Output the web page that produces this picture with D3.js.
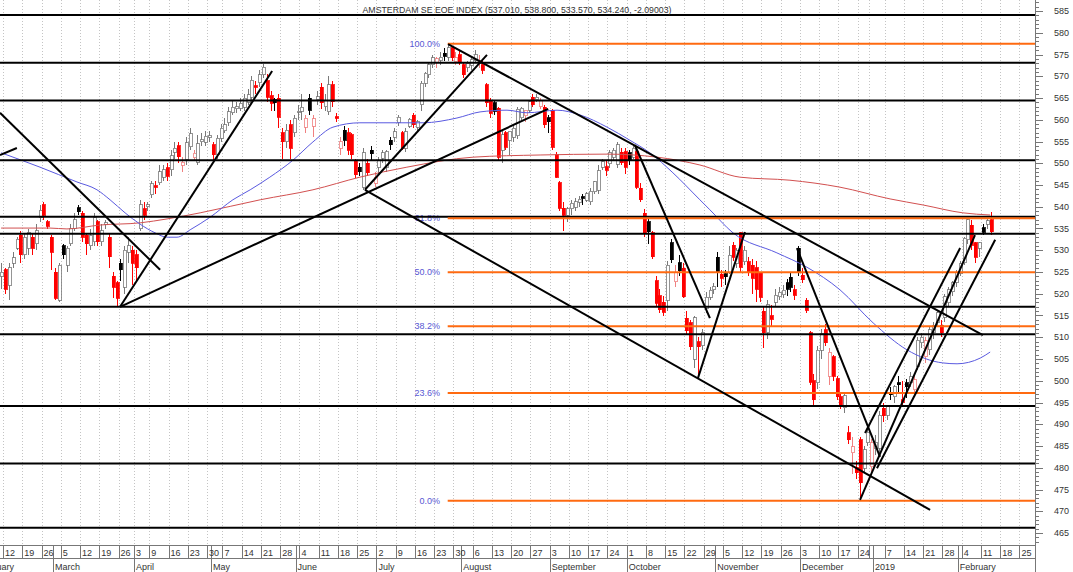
<!DOCTYPE html>
<html><head><meta charset="utf-8">
<script src="https://cdn.jsdelivr.net/npm/d3@7"></script>
<style>
body{margin:0;background:#fff;}
svg{display:block;}
text{font-family:"Liberation Sans",Arial,sans-serif;}
</style>
</head><body>
<svg id="chart" width="1073" height="572"></svg>
<script>
// ---------- DATA ----------
const titleText = "AMSTERDAM SE EOE INDEX (537.010, 538.800, 533.570, 534.240, -2.09003)";
const calendarStart = "2018-02-01";
const calendarEnd = "2019-02-28";
const dataStart = "2018-02-12";
const holidays = ["2018-03-30","2018-04-02","2018-05-01","2018-12-25","2018-12-26","2019-01-01"];
const hiddenDayLabels = ["2018-12-31"];

const open = [524,525.5,522,527,530.5,533.5,529,530.5,533,531.5,537.5,540.5,536.5,533,525,518.5,531,526.5,531.5,535,539.8,538.5,533.5,531,532,536.5,532,536,533,524,522.5,527,521.5,529.5,530,529,535,539.5,540,542.8,544.8,545.5,546.8,549,548.5,552.5,554,549.5,550.8,553.8,551.3,550.2,555,554.8,556,554.2,552,555.8,557.5,559.3,561.6,562.5,562.7,562.9,564,565.2,567.8,568.5,570.3,569,565.5,564.6,565,557,554.9,558.8,557,561.8,562,558.3,565,558.5,564.6,567.5,563,561.8,568,560.7,553.5,557.6,557,556.5,550.5,549.1,544.5,550,553,545.4,549.1,551.2,549.1,555.3,556,559.3,557,553.5,558.5,561,558.3,563.5,568.4,570.3,572.6,573.2,573.7,575.3,574.4,576.5,573.3,575,572.6,571.9,572.5,573.7,573,572.6,568,564.5,563.9,562.7,553,557,555.3,556,556.3,560.5,560.9,562.2,565.2,564.6,563,562.9,560.5,562.2,551.9,545.5,539.7,538,539.5,539.9,541,542.3,541.5,541.2,543.4,543.8,549.1,549.2,549.9,551.4,549.8,552.5,552.6,552.4,551.4,552.6,544.3,538.5,536.5,534,523,519.5,518,518.5,531.7,522.8,527.1,525.9,514.4,513.3,505,509,508.1,516.7,519.2,520.9,528.4,524.5,524.6,525,531.2,527,534,527.3,527.3,526.5,526,524.8,516,511,515,518,519.3,519.8,522.5,523.8,520.9,530.5,524.3,518.5,511,500,499.5,507,511.7,501,505.5,500.5,496.3,493.8,488,483.4,480,486.4,479.9,485.7,480.2,484.5,484.5,493.7,492.1,497.2,496.3,499.5,495.6,499.5,499.7,497.9,503.2,508.7,505.5,507.1,511,513.3,512.8,514.6,517.9,520.5,522.6,524.7,527.1,532.4,535.8,531.7,530.5,535.2,536,537.01];
const high = [527,526,527,529.5,533,534.5,534,535,534,536,540.5,541,537,533.5,526,527,531.5,531,536,538.5,540.5,539,534,535,538.5,537,536,537,534,525,523,528,531,533,531,530,541.5,541,541,546,546,549.5,549.5,550,553,555,555,551.5,556,558,553,556.5,557,557.5,557.5,555,556.5,559,560.5,563,564.5,564,565,566,567,570,569,571.5,572.8,570.5,566.5,565,566,558,559,560,561,563.5,566,561,566,561,566.5,568.5,566,570,569,561.5,556,558.5,558,557,551,550,553.5,551,554,548,551.5,553,553,556,558,561,557.5,558,560.5,561.5,560,569,571,573,575,574.5,575.5,576.5,577.5,577,575.5,576,573,573.5,574.5,576,575,573.5,568.5,565,564.5,563,557.5,557.5,557,559,563,563,562,564.5,566,566,565,563.5,561,562.5,552.5,546,541,540,541.5,542,542.5,543,543.5,544.2,546,549.5,551,550.5,553,553.5,555,553.5,553.5,553,554.2,553.5,545.5,539.5,537.5,534.5,524,521,519.5,527.5,532.5,526.5,529,527,516,514,515,510,512,520.5,521.5,522.5,529.5,525.5,525.5,531,532,530.5,534.3,531,528.5,528,527.5,525,517,518.5,517.5,521,521.5,522,523.5,525,522,531,526,519,511.5,501.5,508,512,513,507.5,506,501,497,497,489.5,487,481.5,487,485,489.5,486.5,487.5,493,495,494.5,498.5,499,501,500,500.5,502,501.5,510,511,510,512.5,513.5,516,514,520,521.5,523,525.5,527.5,533,537.5,537,532,532,536,537.5,538.8];
const low = [521,520,518.5,526,530,527,528,529,529,530,536.5,537,535,525.5,518.5,518,528,525,531,534.5,538,532,529,530,531,531,531,535,526,519,517,523,520,527,522,523,534.5,537,539,542,543,545,546,546,547,551,550,548,549.5,553,550.5,549.5,554,554,555,550,551,555,557,558.5,561,561.5,562,562,563.5,564.5,566,567.5,569.5,564,562,562,558,551,553.5,551,556,560,560,557,561,556,563.5,562.5,562,561,563,559.5,552,554,552,551,546.5,547,543.8,547,550.5,544.5,547.5,550,548,553,555,558.5,553,552.5,558,558,557.5,562,567.5,569.5,572,572,572.5,573.5,573.5,573.5,572.5,572.5,569.5,571,571.5,573,572,570.5,563,560.5,561,550.5,550,553,552,555,555.5,560,559.5,561.5,563,564,562.5,558,557,553,546.5,539,534.5,536.5,538,539,540,540.5,541,540.5,543,543,548.5,547,549,550.5,549,549.5,547.5,549.5,551,544,541,533,531.5,528,517,515.5,515,516,527,521.5,524,519,510.5,507,503,500.6,507,515.5,518.5,520,521.5,521.5,522,524.5,527.5,526,525,526.5,524,520,518,518,507.5,509.5,512.5,517,518.5,519,519.5,520.5,518.5,524,522.5,515.5,499,494.5,498,505,508,499,500,495.5,493.5,492.5,485.5,478.5,477.5,472.4,479,485,478.5,483,483.5,490.5,491,495.5,495,497.5,494,496,498.5,497,502.5,507.5,504,506,509.5,512.5,510,513.5,517,519.5,521.5,524,526.5,531.5,530,527,528.5,533.5,535,533.57];
const close = [525,521,526,528.3,532.5,529,533,534,530.5,534.5,539.2,538,535.5,529.5,519,526.5,529,530.5,535,537,538.8,533,531.5,533.5,537.5,532,534.5,536.3,528.5,521.5,519,525.5,530,531,527,526,540.5,538,540.5,545.3,544.5,548,548.5,547,551.7,553.5,551.5,550.2,554.7,556.8,552.3,554.5,555.4,556.2,556.3,551.9,555.8,558.1,558.8,561.8,562.9,563,563.8,565,565.7,569.1,567.5,570.3,572.1,565.2,563.8,563.9,560.6,554.9,557.6,553.5,560.3,562,562.9,560.4,562.2,560.2,565.3,563.9,564.5,568,564.1,560.4,554.9,555.3,553,552,547.3,548,552.4,547.8,552.2,546.8,550.7,552.4,552.6,554.2,557.2,560.6,553.5,557.2,560.1,558.8,559.5,568.4,570.7,572.6,574.3,574,574.4,574.6,576.5,574.3,574.2,573.3,570.3,573,573.8,574.9,573.7,571.4,563.9,561.5,562,551.4,556.5,553.7,557.2,558.1,562.4,562.6,562.1,564.1,563.4,565.2,564.5,558.8,559.5,553.7,546.8,539.7,538.1,539.5,540.8,541.1,541.7,541.9,543,543.6,545.7,548.3,550.3,548.4,552.4,553,554.2,550.1,549.1,550.8,553.5,544.5,541.6,534,534.3,528.5,517.8,516.3,515.8,526.6,527.8,524.8,525.3,519.3,511.5,507.8,514.5,507.8,511,519.2,520.8,521.6,524.8,523.6,523.9,528.9,528.4,530,526.1,530,525,523.6,521,519.2,511,517.5,514.1,519.6,520.3,520.8,521,521.5,519.7,524.8,523.2,516.2,499.7,495.6,507,510.8,508.7,506.5,501,496.3,494,496.5,486.4,484.8,478.8,476.5,484.1,488.2,485.7,485.9,492.1,492,494,496.8,498.6,499.1,495.1,498.6,500.9,500.2,509.3,510,509.2,511.7,512.6,515.6,511,519.3,520.9,522.5,524.9,526.9,532.8,537,531.2,528.4,531.7,534.1,536.8,534.24];

// moving averages: [trading-day index, value]
const ma50 = [[0,552.4],[10.1,549.1],[19.7,545.7],[24.9,543.9],[28.3,541.6],[32.2,538.6],[36.1,536.0],[40.0,534.0],[43.1,533.0],[45.7,533.0],[49.1,534.7],[54.3,537.6],[60.2,541.6],[64.7,543.9],[69.8,546.8],[75.8,550.7],[81.0,554.9],[86.2,558.3],[93.2,559.3],[99.2,559.3],[109.6,559.3],[118.4,560.4],[124.4,561.8],[131.4,562.2],[136.6,561.6],[144.4,562.2],[150.4,561.1],[157.4,558.3],[163.3,555.3],[168.5,552.4],[174.5,547.8],[181.5,541.6],[184.1,539.3],[190.1,534.0],[201.5,529.4],[209.3,526.1],[217.9,520.9],[226.5,513.3],[235.3,507.1],[244.6,504.1],[248.3,503.9],[254.3,505.2],[256.9,506.6]];
const ma200 = [[0,535.1],[12.7,535.1],[17.1,534.9],[25.7,535.8],[36.1,536.3],[43.1,537.2],[51.7,538.6],[67.3,541.6],[81.0,543.9],[93.2,546.8],[105.4,549.1],[122.6,551.4],[140.0,551.9],[157.4,552.1],[170.4,551.4],[181.5,549.6],[191.9,546.8],[204.9,546.1],[217.9,544.5],[230.9,541.8],[239.5,540.4],[249.8,538.6],[256.9,538.1]];

// horizontal support / resistance levels
const supportLevels = [584.1,573.1,564.4,550.7,537.7,533.8,517.0,510.7,494.2,481.0,466.2];
// fibonacci ratios and labels
const fibRatios = [1,0.618,0.5,0.382,0.236,0];
const fibLabels = ["100.0%","61.8%","50.0%","38.2%","23.6%","0.0%"];
// trend lines: [index1, value1, index2, value2]
const trendLines = [
 [-0.3,561.6,41.3,525.5],[-0.3,551.9,4.1,553.5],
 [30.9,517.0,70.4,571.2],[30.9,517.0,142.1,562.5],
 [94.5,543.9,126.2,574.9],[94.5,543.9,241.3,470.3],
 [116.1,577.4,255.0,510.5],[164.6,554.2,184.1,514.4],
 [181.0,500.6,193.2,534.2],[206.7,530.5,228.3,482.5],
 [224.4,488.0,249.1,530.5],[223.1,472.6,252.96,533.5],[227.5,479.9,258.2,532.4]
];
const priceTicks = [465,470,475,480,485,490,495,500,505,510,515,520,525,530,535,540,545,550,555,560,565,570,575,580,585];
const monthNames = ["January","February","March","April","May","June","July","August","September","October","November","December"];

// ---------- SCALES ----------
const W = 1073, H = 572, plotR = 1035, plotB = 545;
const x = d3.scaleLinear().domain([0,1]).range([1.1,4.95]);
const y = d3.scaleLinear().domain([465,585]).range([533,11]);
const fmt = d3.timeFormat("%Y-%m-%d"), parse = d3.timeParse("%Y-%m-%d");

// trading calendar
const days = [];
for (let d = parse(calendarStart); d <= parse(calendarEnd); d = d3.timeDay.offset(d,1)) {
  const wd = d.getDay();
  if (wd === 0 || wd === 6) continue;
  if (holidays.includes(fmt(d))) continue;
  days.push(d);
}
const i0 = days.findIndex(d => fmt(d) === dataStart);
const posOf = k => k - i0; // calendar position -> trading index

const svg = d3.select("#chart");
svg.append("rect").attr("width",W).attr("height",H).attr("fill","#fff");
const defs = svg.append("defs");
defs.append("clipPath").attr("id","plotclip").append("rect").attr("x",0).attr("y",0).attr("width",plotR).attr("height",plotB);
defs.append("clipPath").attr("id","axisclip").append("rect").attr("x",0).attr("y",plotB).attr("width",plotR).attr("height",H-plotB);

// week ticks & month starts
const weekTicks = [], monthStarts = [];
days.forEach((d,k) => {
  const prev = days[k-1];
  if (!prev || d3.timeMonday.floor(d).getTime() !== d3.timeMonday.floor(prev).getTime()) weekTicks.push(k);
  if (!prev || d.getMonth() !== prev.getMonth()) monthStarts.push(k);
});
const tickX = k => x(posOf(k)) + 1.9;

const plot = svg.append("g").attr("clip-path","url(#plotclip)");
// dotted vertical grid
plot.append("g").selectAll("line").data(weekTicks).join("line")
  .attr("x1",k=>Math.round(tickX(k))+0.5).attr("x2",k=>Math.round(tickX(k))+0.5)
  .attr("y1",0).attr("y2",plotB)
  .attr("stroke","#c4c4c4").attr("stroke-width",1).attr("stroke-dasharray","1,2");

// candles
const N = close.length;
const candles = d3.range(N).map(i => ({i, o:open[i], h:high[i], l:low[i], c:close[i], pc: i>0 ? close[i-1] : open[i]}));
const style = d => {
  const down = d.c < d.pc, filled = d.c < d.o;
  if (!down && !filled) return {fill:"#fff", stroke:"#7a7a7a"};
  if (!down && filled) return {fill:"#000", stroke:"#000"};
  if (down && filled) return {fill:"#ff0000", stroke:"#ff0000"};
  return {fill:"#fff", stroke:"#f08080"};
};
const cg = plot.append("g").attr("shape-rendering","crispEdges");
cg.selectAll("line").data(candles).join("line")
  .attr("x1",d=>Math.round(x(d.i))+0.5).attr("x2",d=>Math.round(x(d.i))+0.5)
  .attr("y1",d=>y(d.h)).attr("y2",d=>y(d.l))
  .attr("stroke",d=>style(d).stroke).attr("stroke-width",1);
cg.selectAll("rect").data(candles).join("rect")
  .attr("x",d=>Math.round(x(d.i))-1).attr("width",3)
  .attr("y",d=>y(Math.max(d.o,d.c))).attr("height",d=>Math.max(1,Math.abs(y(d.o)-y(d.c))))
  .attr("fill",d=>style(d).fill).attr("stroke",d=>style(d).stroke).attr("stroke-width",0.8);

// moving averages
const maLine = d3.line().x(p=>x(p[0])).y(p=>y(p[1])).curve(d3.curveMonotoneX);
plot.append("path").attr("d",maLine(ma200)).attr("fill","none").attr("stroke","#d25050").attr("stroke-width",1);
plot.append("path").attr("d",maLine(ma50)).attr("fill","none").attr("stroke","#5a5ae0").attr("stroke-width",1);

// fibonacci retracement
const hiIdx = d3.maxIndex(high), loIdx = d3.minIndex(low);
const fibHi = high[hiIdx], fibLo = low[loIdx];
const fibVals = fibRatios.map(r => fibLo + r*(fibHi-fibLo));
plot.append("g").selectAll("text").data(fibVals).join("text")
  .attr("x",440).attr("y",v=>y(v)).attr("dy","0.35em").attr("text-anchor","end")
  .attr("font-size",9).attr("fill","#5858d4").text((v,j)=>fibLabels[j]);

// support lines
plot.append("g").selectAll("line").data(supportLevels).join("line")
  .attr("x1",0).attr("x2",plotR).attr("y1",v=>y(v)).attr("y2",v=>y(v))
  .attr("stroke","#000").attr("stroke-width",2);

plot.append("g").selectAll("line").data(fibVals).join("line")
  .attr("x1",x(hiIdx)).attr("x2",plotR).attr("y1",v=>y(v)).attr("y2",v=>y(v))
  .attr("stroke","#ff6a10").attr("stroke-width",2);

// trend lines
plot.append("g").selectAll("line").data(trendLines).join("line")
  .attr("x1",t=>x(t[0])).attr("y1",t=>y(t[1])).attr("x2",t=>x(t[2])).attr("y2",t=>y(t[3]))
  .attr("stroke","#000").attr("stroke-width",2);

// title
svg.append("text").attr("x",517).attr("y",13).attr("text-anchor","middle")
  .attr("font-size",9.5).attr("textLength",309).attr("lengthAdjust","spacingAndGlyphs")
  .attr("fill","#333").text(titleText);

// right price axis
const ax = svg.append("g").attr("shape-rendering","crispEdges");
ax.append("line").attr("x1",plotR+0.5).attr("x2",plotR+0.5).attr("y1",0).attr("y2",H).attr("stroke","#777");
const minor = d3.range(463,588,1).filter(v=>y(v)>=0 && y(v)<=plotB);
ax.selectAll("line.mn").data(minor).join("line").attr("class","mn")
  .attr("x1",plotR).attr("x2",v=> v%5===0 ? plotR+8 : plotR+4)
  .attr("y1",v=>Math.round(y(v))+0.5).attr("y2",v=>Math.round(y(v))+0.5)
  .attr("stroke","#777");
svg.append("g").selectAll("text").data(priceTicks).join("text")
  .attr("x",1054).attr("y",v=>y(v)).attr("dy","0.35em").attr("font-size",9).attr("fill","#333")
  .text(v=>v);

// bottom date axis
const bx = svg.append("g").attr("shape-rendering","crispEdges");
bx.append("line").attr("x1",0).attr("x2",plotR).attr("y1",plotB+0.5).attr("y2",plotB+0.5).attr("stroke","#777");
bx.append("line").attr("x1",0).attr("x2",plotR).attr("y1",558.5).attr("y2",558.5).attr("stroke","#777");
const bclip = svg.append("g").attr("clip-path","url(#axisclip)");
bclip.append("g").attr("shape-rendering","crispEdges").selectAll("line").data(weekTicks).join("line")
  .attr("x1",k=>Math.round(tickX(k))+0.5).attr("x2",k=>Math.round(tickX(k))+0.5)
  .attr("y1",plotB).attr("y2",558.5).attr("stroke","#777");
bclip.append("g").attr("shape-rendering","crispEdges").selectAll("line").data(monthStarts).join("line")
  .attr("x1",k=>Math.round(tickX(k))+0.5).attr("x2",k=>Math.round(tickX(k))+0.5)
  .attr("y1",plotB).attr("y2",H).attr("stroke","#777");
bclip.append("g").selectAll("text")
  .data(weekTicks.filter(k=>!hiddenDayLabels.includes(fmt(days[k])) && tickX(k) >= 0)).join("text")
  .attr("x",k=>tickX(k)+2).attr("y",555.5).attr("font-size",9).attr("fill","#333")
  .text(k=>days[k].getDate());
bclip.append("g").selectAll("text").data(monthStarts).join("text")
  .attr("x",k=>tickX(k)+2).attr("y",569.5).attr("font-size",9).attr("fill","#333")
  .text(k=>days[k].getMonth()===0 ? days[k].getFullYear() : monthNames[days[k].getMonth()]);
</script>
</body></html>
